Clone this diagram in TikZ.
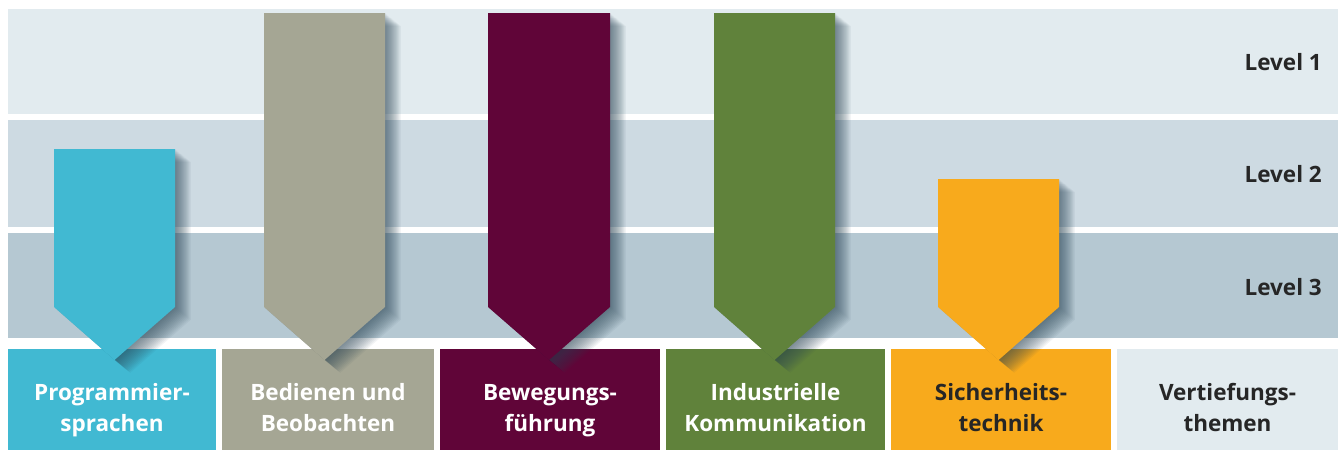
\documentclass[tikz,border=0pt]{standalone}
\usepackage{fontspec}
\setmainfont{Open Sans}

\definecolor{bandA}{HTML}{E2EBEF}
\definecolor{bandB}{HTML}{CDDAE2}
\definecolor{bandC}{HTML}{B5C8D2}
\definecolor{cProg}{HTML}{41B9D2}
\definecolor{cBed}{HTML}{A5A694}
\definecolor{cBew}{HTML}{600538}
\definecolor{cInd}{HTML}{60823B}
\definecolor{cSich}{HTML}{F8AA1C}
\definecolor{cVert}{HTML}{E2EBEF}
\definecolor{txtdark}{HTML}{262626}
\definecolor{shadowcol}{HTML}{2A4555}

\tikzset{
  topicbox/.style={rectangle, inner sep=0pt, minimum height=101pt, anchor=north west},
  topictext/.style={align=center, inner sep=0pt,
    font=\fontsize{22.5}{31}\selectfont\bfseries, text=white},
  levellabel/.style={anchor=base east, inner sep=0pt,
    font=\fontsize{22.5}{26}\selectfont\bfseries, text=txtdark},
  shadowlayer/.style={fill=shadowcol, opacity=0.055}
}

% downward pointing arrow with a soft shadow: left x, right x, top y, colour
\newcommand\downarrowshape[4]{%
  \foreach \k in {1,...,15}{%
    \fill[shadowlayer, shift={(\k*1.05,\k*0.85)}] (#1,#3) -- (#2,#3) -- (#2,307)
      -- ({(#1+#2)/2},360) -- (#1,307) -- cycle;}
  \fill[#4] (#1,#3) -- (#2,#3) -- (#2,307)
    -- ({(#1+#2)/2},360) -- (#1,307) -- cycle;}

\begin{document}
\begin{tikzpicture}[x=1pt,y=-1pt]
\useasboundingbox (0,0) rectangle (1338,450);
\fill[white] (0,0) rectangle (1338,450);

% level bands
\fill[bandA] (8,9) rectangle (1338,114);
\fill[bandB] (8,120) rectangle (1338,227);
\fill[bandC] (8,233) rectangle (1338,338);

\node[levellabel] (lev1) at (1322,70) {Level 1};
\node[levellabel] (lev2) at (1322,182) {Level 2};
\node[levellabel] (lev3) at (1322,295.5) {Level 3};

% topic boxes
\node[topicbox, fill=cProg, minimum width=208pt] (prog) at (8,349) {};
\node[topicbox, fill=cBed,  minimum width=212pt] (bed)  at (222,349) {};
\node[topicbox, fill=cBew,  minimum width=220pt] (bew)  at (440,349) {};
\node[topicbox, fill=cInd,  minimum width=219pt] (ind)  at (666,349) {};
\node[topicbox, fill=cSich, minimum width=220pt] (sich) at (891,349) {};
\node[topicbox, fill=cVert, minimum width=221pt] (vert) at (1117,349) {};

% level arrows
\downarrowshape{54}{175}{149}{cProg}
\downarrowshape{264}{385}{13}{cBed}
\downarrowshape{488}{610}{13}{cBew}
\downarrowshape{714}{835}{13}{cInd}
\downarrowshape{938}{1059}{179}{cSich}

% topic labels
\node[topictext] (progtext) at (112,409.3) {\strut Programmier-\\\strut sprachen};
\node[topictext] (bedtext)  at (328,409.3) {\strut Bedienen und\\\strut Beobachten};
\node[topictext] (bewtext)  at (550,409.3) {\strut Bewegungs-\\\strut führung};
\node[topictext] (indtext)  at (775.5,409.3) {\strut Industrielle\\\strut Kommunikation};
\node[topictext, text=txtdark] (sichtext) at (1001,409.3) {\strut Sicherheits-\\\strut technik};
\node[topictext, text=txtdark] (verttext) at (1227.5,409.3) {\strut Vertiefungs-\\\strut themen};
\end{tikzpicture}
\end{document}
